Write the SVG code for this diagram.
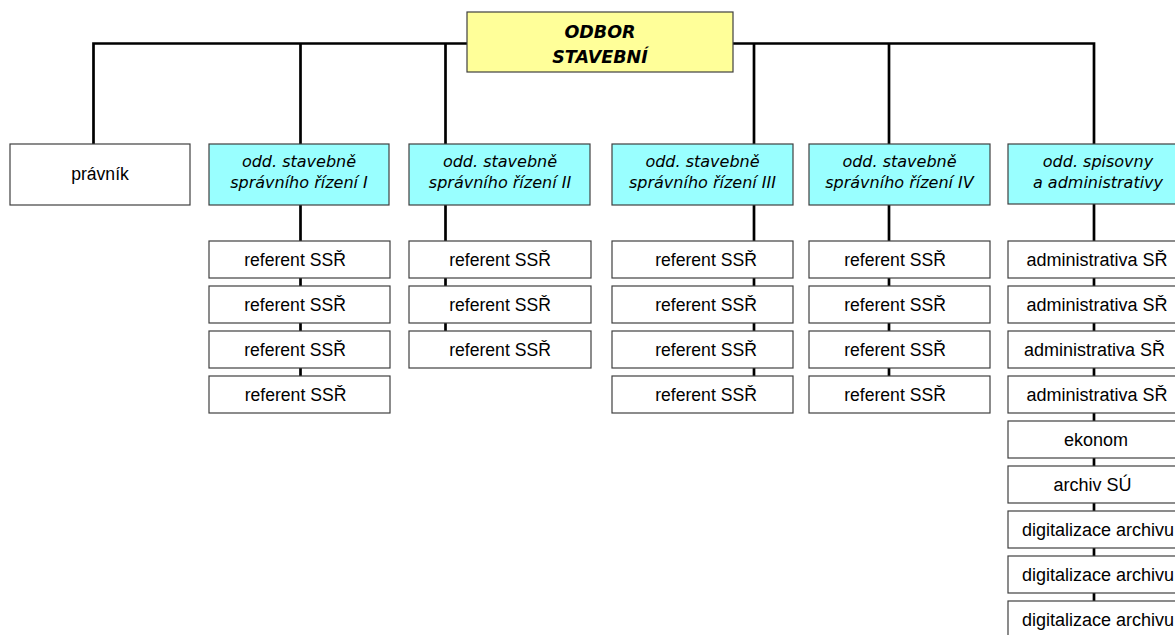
<svg xmlns="http://www.w3.org/2000/svg" width="1175" height="635" viewBox="0 0 1175 635">
<style>
.ln{fill:none;stroke:#000;stroke-width:2.7}
.box{fill:#fff;stroke:#404040;stroke-width:1.2}
.dep{fill:#99ffff;stroke:#404040;stroke-width:1.2}
.top{fill:#ffff99;stroke:#404040;stroke-width:1.2}
.tt{font-family:"DejaVu Sans",Verdana,sans-serif;font-size:17.5px;font-weight:bold;font-style:italic;text-anchor:middle;fill:#000}
.dt{font-family:"DejaVu Sans",Verdana,sans-serif;font-size:16px;font-style:italic;text-anchor:middle;fill:#000}
.rt{font-family:"Liberation Sans",Arial,sans-serif;font-size:17.6px;text-anchor:middle;fill:#000}
.at{font-family:"Liberation Sans",Arial,sans-serif;font-size:18px;text-anchor:middle;fill:#000}
</style>
<rect width="1175" height="635" fill="#fff"/>
<g id="connectors">
<path class="ln" d="M93.5 144 V43.5 H1094 V144"/>
<path class="ln" d="M300.5 43.5 V144"/>
<path class="ln" d="M445.5 43.5 V144"/>
<path class="ln" d="M754 43.5 V144"/>
<path class="ln" d="M889 43.5 V144"/>
<path class="ln" d="M300.5 205 V376"/>
<path class="ln" d="M445.5 205 V331"/>
<path class="ln" d="M754 205 V376"/>
<path class="ln" d="M889 205 V376"/>
<path class="ln" d="M1094 204 V601"/>
</g>
<g id="odbor"><rect class="top" x="467" y="12" width="266" height="60"/><text class="tt" x="600" y="37.5">ODBOR</text><text class="tt" x="600" y="62.5">STAVEBNÍ</text></g>
<g id="pravnik"><rect class="box" x="10" y="144" width="180" height="61"/><text class="rt" x="100" y="180">právník</text></g>
<g id="odd1"><rect class="dep" x="209" y="144" width="180" height="61"/><text class="dt" x="299" y="167">odd. stavebně</text><text class="dt" x="299" y="188">správního řízení I</text></g>
<g id="odd2"><rect class="dep" x="409" y="144" width="181" height="61"/><text class="dt" x="500" y="167">odd. stavebně</text><text class="dt" x="500" y="188">správního řízení II</text></g>
<g id="odd3"><rect class="dep" x="612" y="144" width="181" height="61"/><text class="dt" x="702.5" y="167">odd. stavebně</text><text class="dt" x="702.5" y="188">správního řízení III</text></g>
<g id="odd4"><rect class="dep" x="809" y="144" width="181" height="61"/><text class="dt" x="899.5" y="167">odd. stavebně</text><text class="dt" x="899.5" y="188">správního řízení IV</text></g>
<g id="odd5"><rect class="dep" x="1008" y="144" width="180" height="60"/><text class="dt" x="1098" y="167">odd. spisovny</text><text class="dt" x="1098" y="188">a administrativy</text></g>
<g id="r1a"><rect class="box" x="209" y="241" width="181" height="37"/><text class="rt" x="295" y="265.5">referent SSŘ</text></g>
<g id="r1b"><rect class="box" x="209" y="286" width="181" height="37"/><text class="rt" x="295" y="310.5">referent SSŘ</text></g>
<g id="r1c"><rect class="box" x="209" y="331" width="181" height="37"/><text class="rt" x="295" y="355.5">referent SSŘ</text></g>
<g id="r1d"><rect class="box" x="209" y="376" width="181" height="37"/><text class="rt" x="295.5" y="400.5">referent SSŘ</text></g>
<g id="r2a"><rect class="box" x="409" y="241" width="182" height="37"/><text class="rt" x="500" y="265.5">referent SSŘ</text></g>
<g id="r2b"><rect class="box" x="409" y="286" width="182" height="37"/><text class="rt" x="500" y="310.5">referent SSŘ</text></g>
<g id="r2c"><rect class="box" x="409" y="331" width="182" height="37"/><text class="rt" x="500" y="355.5">referent SSŘ</text></g>
<g id="r3a"><rect class="box" x="612" y="241" width="181" height="37"/><text class="rt" x="706" y="265.5">referent SSŘ</text></g>
<g id="r3b"><rect class="box" x="612" y="286" width="181" height="37"/><text class="rt" x="706" y="310.5">referent SSŘ</text></g>
<g id="r3c"><rect class="box" x="612" y="331" width="181" height="37"/><text class="rt" x="706" y="355.5">referent SSŘ</text></g>
<g id="r3d"><rect class="box" x="612" y="376" width="181" height="37"/><text class="rt" x="706" y="400.5">referent SSŘ</text></g>
<g id="r4a"><rect class="box" x="809" y="241" width="181" height="37"/><text class="rt" x="895" y="265.5">referent SSŘ</text></g>
<g id="r4b"><rect class="box" x="809" y="286" width="181" height="37"/><text class="rt" x="895" y="310.5">referent SSŘ</text></g>
<g id="r4c"><rect class="box" x="809" y="331" width="181" height="37"/><text class="rt" x="895" y="355.5">referent SSŘ</text></g>
<g id="r4d"><rect class="box" x="809" y="376" width="181" height="37"/><text class="rt" x="895" y="400.5">referent SSŘ</text></g>
<g id="a1"><rect class="box" x="1008" y="241" width="180" height="37"/><text class="at" x="1097" y="266">administrativa SŘ</text></g>
<g id="a2"><rect class="box" x="1008" y="286" width="180" height="37"/><text class="at" x="1097" y="311">administrativa SŘ</text></g>
<g id="a3"><rect class="box" x="1008" y="331" width="180" height="37"/><text class="at" x="1094.5" y="356">administrativa SŘ</text></g>
<g id="a4"><rect class="box" x="1008" y="376" width="180" height="37"/><text class="at" x="1097" y="401">administrativa SŘ</text></g>
<g id="ekonom"><rect class="box" x="1008" y="421" width="180" height="37"/><text class="at" x="1096" y="446">ekonom</text></g>
<g id="archiv"><rect class="box" x="1008" y="466" width="180" height="37"/><text class="at" x="1092.5" y="491">archiv SÚ</text></g>
<g id="dig1"><rect class="box" x="1008" y="511" width="180" height="37"/><text class="at" x="1098" y="536">digitalizace archivu</text></g>
<g id="dig2"><rect class="box" x="1008" y="556" width="180" height="37"/><text class="at" x="1098" y="581">digitalizace archivu</text></g>
<g id="dig3"><rect class="box" x="1008" y="601" width="180" height="37"/><text class="at" x="1098" y="626">digitalizace archivu</text></g>
</svg>
